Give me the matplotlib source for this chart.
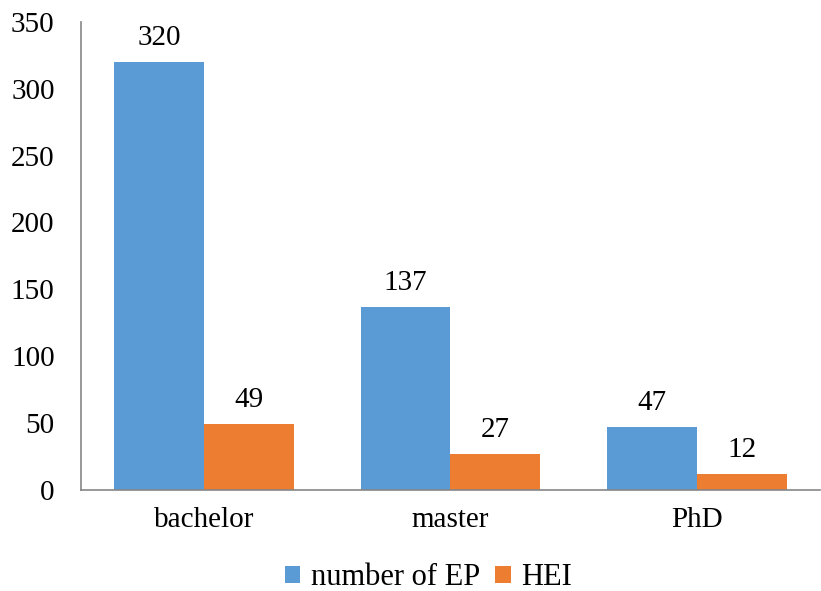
import numpy as np
import matplotlib.pyplot as plt

plt.rcParams['font.family'] = ['Liberation Serif', 'DejaVu Serif']

# data
categories = ['bachelor', 'master', 'PhD']
number_of_ep = [320, 137, 47]
hei = [49, 27, 12]
series_names = ['number of EP', 'HEI']

fig = plt.figure(figsize=(8.21, 5.91), dpi=100)
ax = fig.add_axes([0.0987, 0.171, 0.9, 0.792])

x = np.arange(len(categories))
w = 0.365
b1 = ax.bar(x - w / 2, number_of_ep, w, color='#5B9BD5', label=series_names[0])
b2 = ax.bar(x + w / 2, hei, w, color='#ED7D31', label=series_names[1])

# value labels above bars
for bars, vals in [(b1, number_of_ep), (b2, hei)]:
    for r, v in zip(bars, vals):
        ax.annotate(str(v), (r.get_x() + r.get_width() / 2, r.get_height()),
                    xytext=(0, 8), textcoords='offset points',
                    ha='center', va='bottom', fontsize=21)

ax.set_xlim(-0.5, 2.5)
ax.set_ylim(0, 350)
ax.set_yticks(range(0, 351, 50))
ax.set_xticks(x)
ax.set_xticklabels(categories)
ax.tick_params(axis='y', length=0, labelsize=21, pad=19)
ax.tick_params(axis='x', length=0, labelsize=21, pad=12)

for s in ['top', 'right']:
    ax.spines[s].set_visible(False)
for s in ['left', 'bottom']:
    ax.spines[s].set_color('#868686')
    ax.spines[s].set_linewidth(1.2)

leg = fig.legend(handles=[b1, b2], labels=series_names, loc='center',
                 bbox_to_anchor=(0.522, 0.022), ncol=2, frameon=False,
                 fontsize=22, handlelength=0.5, handleheight=0.5,
                 handletextpad=0.35, columnspacing=0.5)

fig.savefig('out.png', dpi=100)
